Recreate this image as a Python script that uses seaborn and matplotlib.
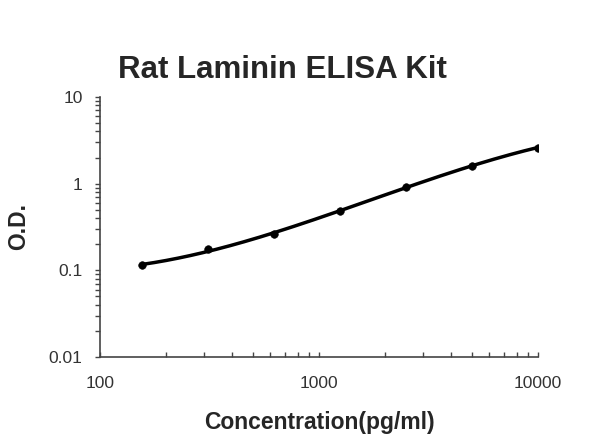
"""Rat Laminin ELISA standard curve."""

import numpy as np
import matplotlib
matplotlib.use("Agg")
import matplotlib.pyplot as plt
import seaborn as sns
import pandas as pd
from matplotlib.ticker import LogLocator, FixedLocator, NullFormatter

concentration = [156.25, 312.5, 625, 1250, 2500, 5000, 10000]
od = [0.115, 0.175, 0.262, 0.48, 0.92, 1.62, 2.6]
y_ticks = [0.01, 0.1, 1, 10]
y_tick_labels = ["0.01", "0.1", "1", "10"]
x_ticks = [100, 1000, 10000]
x_tick_labels = ["100", "1000", "10000"]

sns.set_theme(style="white")
plt.rcParams["font.family"] = ["Liberation Sans", "DejaVu Sans"]

df = pd.DataFrame({"conc": concentration, "od": od})

# smooth trend line: cubic fit in log-log space
coef = np.polyfit(np.log10(df["conc"]), np.log10(df["od"]), 3)
fit_x = np.logspace(np.log10(concentration[0]), np.log10(concentration[-1]), 200)
fit = pd.DataFrame({"conc": fit_x, "od": 10 ** np.polyval(coef, np.log10(fit_x))})

fig = plt.figure(figsize=(6, 4.47), dpi=100)
ax = fig.add_axes([100 / 600, 1 - 357 / 447, 438 / 600, 260 / 447])

sns.lineplot(data=fit, x="conc", y="od", ax=ax, color="black", linewidth=2.5)
sns.scatterplot(data=df, x="conc", y="od", ax=ax, color="black", s=30, edgecolor="black", zorder=3)

ax.set_xscale("log")
ax.set_yscale("log")
ax.set_xlim(100, 10000)
ax.set_ylim(0.01, 10)

ax.xaxis.set_major_locator(FixedLocator(x_ticks))
ax.set_xticklabels(x_tick_labels)
ax.xaxis.set_minor_locator(LogLocator(base=10, subs=np.arange(2, 10)))
ax.xaxis.set_minor_formatter(NullFormatter())
ax.yaxis.set_major_locator(FixedLocator(y_ticks))
ax.set_yticklabels(y_tick_labels)
ax.yaxis.set_minor_locator(LogLocator(base=10, subs=np.arange(2, 10)))
ax.yaxis.set_minor_formatter(NullFormatter())

ax.tick_params(axis="x", which="both", direction="in", bottom=True, length=3.5, width=1,
               color="#444444", labelsize=12.5, labelcolor="#333333", pad=14)
ax.tick_params(axis="y", which="both", direction="out", left=True, length=3.5, width=1,
               color="#444444", labelsize=12.5, labelcolor="#333333", pad=9)

for side in ["top", "right"]:
    ax.spines[side].set_visible(False)
for side in ["left", "bottom"]:
    ax.spines[side].set_color("#444444")
    ax.spines[side].set_linewidth(1.2)

ax.set_xlabel("Concentration(pg/ml)", fontsize=16.5, fontweight="bold")
ax.xaxis.set_label_coords(0.5, -(411 - 357) / 260)
ax.set_ylabel("O.D.", fontsize=16.5, fontweight="bold")
ax.yaxis.set_label_coords(-(100 - 30) / 438, 0.5)
fig.text(282 / 600, 1 - 70 / 447, "Rat Laminin ELISA Kit", ha="center", va="center",
         fontsize=22.5, fontweight="bold")

fig.savefig("out.png", dpi=100)
plt.close(fig)
